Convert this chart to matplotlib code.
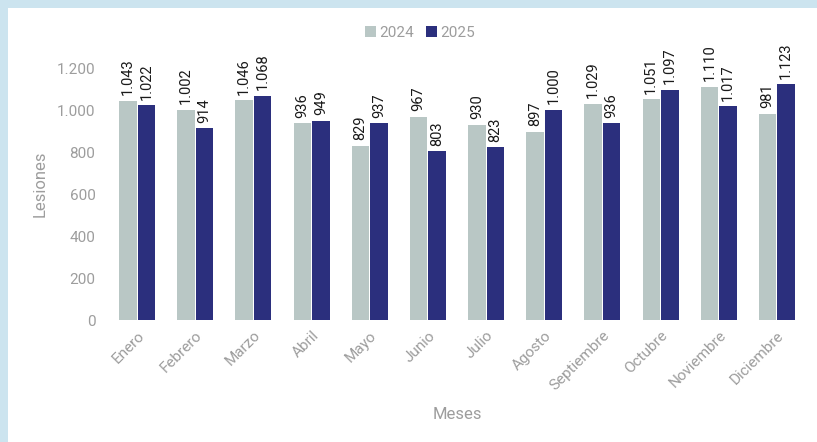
import matplotlib
matplotlib.use("Agg")
import matplotlib.pyplot as plt
from matplotlib.patches import Rectangle
from matplotlib import font_manager
import numpy as np

months = ["Enero", "Febrero", "Marzo", "Abril", "Mayo", "Junio", "Julio",
          "Agosto", "Septiembre", "Octubre", "Noviembre", "Diciembre"]
v2024 = [1043, 1002, 1046, 936, 829, 967, 930, 897, 1029, 1051, 1110, 981]
v2025 = [1022, 914, 1068, 949, 937, 803, 823, 1000, 936, 1097, 1017, 1123]
yticks = [0, 200, 400, 600, 800, 1000, 1200]

avail = {f.name for f in font_manager.fontManager.ttflist}
fam = [f for f in ["Liberation Sans Narrow", "Roboto", "DejaVu Sans"] if f in avail]
plt.rcParams['font.family'] = fam

c2024 = "#b9c7c5"
c2025 = "#2b2f7d"
gray = "#9d9d9d"

W, H = 817, 442
fig = plt.figure(figsize=(W/100, H/100), dpi=100, facecolor="#cce4ef")
fig.patches.append(Rectangle((8/W, 0), 1 - 8/W, 1 - 8/H, transform=fig.transFigure,
                             facecolor="white", edgecolor="none", zorder=-10))

ymax = 1300
y0px, y1200px = 320, 68
ppu = (y0px - y1200px) / 1200
top_px = y0px - ppu * ymax
left_px, right_px = 108, 806
ax = fig.add_axes([left_px/W, (H - y0px)/H, (right_px - left_px)/W, (y0px - top_px)/H])
ax.set_facecolor("none")
ax.set_zorder(5)

x = np.arange(len(months))
bw = 0.3
gap = 0.02
b1 = ax.bar(x - bw/2 - gap/2, v2024, bw, color=c2024, label="2024")
b2 = ax.bar(x + bw/2 + gap/2, v2025, bw, color=c2025, label="2025")

def fmt(v):
    return f"{v:,}".replace(",", ".")

for bars, vals in ((b1, v2024), (b2, v2025)):
    for b, v in zip(bars, vals):
        ax.annotate(fmt(v), (b.get_x() + b.get_width()/2, v), xytext=(0, 4),
                    textcoords="offset points", rotation=90, ha="center", va="bottom",
                    fontsize=10.5, color="#1a1a1a")

ax.set_xlim(-0.5, len(months) - 0.5)
ax.set_ylim(0, ymax)
ax.set_yticks(yticks)
ax.set_yticklabels([fmt(t) for t in yticks])
ax.set_xticks(x)
ax.set_xticklabels(months, rotation=45, ha="right", rotation_mode="anchor")
ax.tick_params(axis="both", length=0, colors=gray, labelsize=11)
ax.tick_params(axis="y", pad=9)
ax.tick_params(axis="x", pad=6)
for s in ax.spines.values():
    s.set_visible(False)
ax.set_ylabel("Lesiones", color=gray, fontsize=12, labelpad=7)
ax.set_xlabel("Meses", color=gray, fontsize=12, labelpad=10)

leg = fig.legend(handles=[b1, b2], labels=["2024", "2025"], loc="center",
                 bbox_to_anchor=(420/W, 1 - 33/H), ncol=2, frameon=False,
                 fontsize=11, handlelength=0.7, handleheight=0.7, handletextpad=0.2,
                 columnspacing=0.8, labelcolor=gray)

fig.savefig("out.png", dpi=100, facecolor=fig.get_facecolor())
